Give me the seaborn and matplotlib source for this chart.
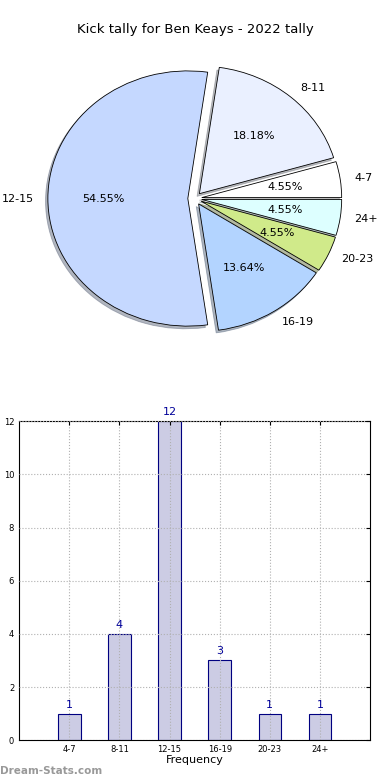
import matplotlib
matplotlib.use('Agg')
import matplotlib.pyplot as plt
import seaborn as sns

# ---------------- DATOS ----------------
ranges = ['4-7', '8-11', '12-15', '16-19', '20-23', '24+']
counts = [1, 4, 12, 3, 1, 1]
pie_colors = ['#ffffff', '#eaf0ff', '#c5d8ff', '#b3d4ff', '#d0ea8a', '#ddffff']
explode = [0.05, 0.05, 0.05, 0.05, 0.05, 0.05]

sns.set_style('white')
plt.rcParams['font.family'] = ['DejaVu Sans']
plt.rcParams['text.color'] = 'black'
plt.rcParams['axes.labelcolor'] = 'black'
plt.rcParams['xtick.color'] = 'black'
plt.rcParams['ytick.color'] = 'black'

fig = plt.figure(figsize=(3.9, 7.8), dpi=100)

# ---------------- PIE ----------------
# el pie original no es circular (aspecto libre)
ax1 = fig.add_axes([0.051, 0.541, 0.897, 0.409])
wedges, texts, autotexts = ax1.pie(
    counts, labels=ranges, colors=pie_colors, explode=explode,
    autopct='%1.2f%%', shadow={'ox': -0.012, 'oy': -0.015, 'shade': 0.5},
    startangle=0,
    wedgeprops={'edgecolor': 'black', 'linewidth': 0.6},
    textprops={'fontsize': 8, 'color': 'black'})
ax1.set_aspect('auto')
ax1.set_xlim(-1.25, 1.25)
ax1.set_ylim(-1.25, 1.25)
fig.text(0.5, 1 - 30 / 780, 'Kick tally for Ben Keays - 2022 tally',
         ha='center', va='center', fontsize=9.5)

# ---------------- BARRAS ----------------
ax2 = fig.add_axes([0.049, 0.051, 0.9, 0.409])
sns.barplot(x=ranges, y=counts, color='#cccce4', saturation=1,
            edgecolor='#000080', linewidth=0.8, width=0.45, ax=ax2)
ax2.set_xlim(-1, 6)
ax2.set_ylim(0, 12)
ax2.set_yticks(range(0, 13, 2))
ax2.grid(True, linestyle=':', color='#b0b0b0', linewidth=0.8)
ax2.set_axisbelow(False)
for s in ax2.spines.values():
    s.set_visible(True)
    s.set_color('black')
    s.set_linewidth(0.8)
ax2.tick_params(direction='in', top=True, right=True, labelsize=6, length=3)
ax2.set_xlabel('Frequency', fontsize=8, labelpad=1)
ax2.set_ylabel('Distribution', fontsize=8, labelpad=2)
for i, c in enumerate(counts):
    ax2.text(i, c + 0.15, str(c), ha='center', va='bottom', fontsize=8, color='#000099')

fig.text(0.0, 0.012, 'Dream-Stats.com', fontsize=7.5, color='#999999',
         fontweight='bold', ha='left', va='center')

fig.savefig('out.png', dpi=100)
